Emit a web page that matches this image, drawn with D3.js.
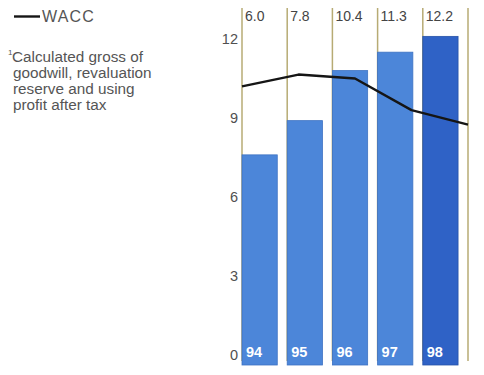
<!DOCTYPE html>
<html>
<head>
<meta charset="utf-8">
<script src="https://cdn.jsdelivr.net/npm/d3@7"></script>
<style>
  html, body { margin: 0; padding: 0; background: #fff; }
  svg { display: block; }
  text { font-family: "Liberation Sans", Arial, Helvetica, sans-serif; }
</style>
</head>
<body>
<svg id="chart" width="484" height="375"></svg>
<script>
// Years shown on the bars
const years = ["94", "95", "96", "97", "98"];
// Return on capital employed (bars), per cent
const returnValues = [7.6, 8.9, 10.8, 11.5, 12.1];
// Weighted average cost of capital (line), per cent
const waccValues = [10.2, 10.65, 10.5, 9.3, 8.75];
// Figures printed above each column
const topLabels = ["6.0", "7.8", "10.4", "11.3", "12.2"];
// Value axis ticks
const yTicks = [0, 3, 6, 9, 12];
// Footnote lines
const footnote = ["Calculated gross of", "goodwill, revaluation", "reserve and using", "profit after tax"];

const svg = d3.select("#chart");

const plotLeft = 242, plotRight = 468;
const y = d3.scaleLinear().domain([0, 12]).range([355, 39]);
const barOverhang = 10;

const x = d3.scaleBand()
  .domain(years)
  .range([plotLeft, plotRight])
  .paddingInner(0.22)
  .paddingOuter(0.11)
  .align(0);

const xLine = d3.scalePoint().domain(years).range([plotLeft, plotRight]);

// Column divider rules
const ruleXs = years.map(d => x(d)).concat([plotRight]);
svg.append("g").selectAll("line")
  .data(ruleXs)
  .join("line")
  .attr("x1", d => d).attr("x2", d => d)
  .attr("y1", 8).attr("y2", y(0) + 6)
  .attr("stroke", "#b7ab74")
  .attr("stroke-width", 1.5);

// Bars
const barColor = (d, i) => i === years.length - 1 ? "#2f62c6" : "#4c86d9";
svg.append("g").selectAll("rect")
  .data(returnValues)
  .join("rect")
  .attr("x", (d, i) => x(years[i]))
  .attr("width", x.bandwidth())
  .attr("y", d => y(d))
  .attr("height", d => y(0) + barOverhang - y(d))
  .attr("fill", barColor)
  .attr("stroke", (d, i) => i === years.length - 1 ? "#2753a8" : "#3e72c2")
  .attr("stroke-width", 0.8);

// Year labels inside bars
svg.append("g").selectAll("text")
  .data(years)
  .join("text")
  .attr("x", d => x(d) + 4)
  .attr("y", y(0) + 2)
  .attr("fill", "#ffffff")
  .attr("font-size", 14.5)
  .attr("font-weight", "bold")
  .text(d => d);

// Figures above columns
svg.append("g").selectAll("text")
  .data(topLabels)
  .join("text")
  .attr("x", (d, i) => x(years[i]) + 3)
  .attr("y", 21)
  .attr("fill", "#444")
  .attr("font-size", 14)
  .text(d => d);

// Value axis labels
svg.append("g").selectAll("text")
  .data(yTicks)
  .join("text")
  .attr("x", 238)
  .attr("y", d => y(d))
  .attr("dy", "0.36em")
  .attr("text-anchor", "end")
  .attr("fill", "#505050")
  .attr("font-size", 14.5)
  .text(d => d);

// WACC line
const line = d3.line()
  .x((d, i) => xLine(years[i]))
  .y(d => y(d));
svg.append("path")
  .datum(waccValues)
  .attr("d", line)
  .attr("fill", "none")
  .attr("stroke", "#151515")
  .attr("stroke-width", 2.4)
  .attr("stroke-linejoin", "round");

// Legend
svg.append("line")
  .attr("x1", 14).attr("x2", 40)
  .attr("y1", 16.5).attr("y2", 16.5)
  .attr("stroke", "#151515")
  .attr("stroke-width", 2.4);
svg.append("text")
  .attr("x", 42).attr("y", 22)
  .attr("fill", "#555")
  .attr("font-size", 16)
  .attr("letter-spacing", 1.2)
  .text("WACC");

// Footnote
svg.append("text")
  .attr("x", 8).attr("y", 55)
  .attr("fill", "#555")
  .attr("font-size", 8)
  .text("1");
svg.append("g").selectAll("text")
  .data(footnote)
  .join("text")
  .attr("x", (d, i) => i === 0 ? 12 : 13)
  .attr("y", (d, i) => 62 + i * 16)
  .attr("fill", "#555")
  .attr("font-size", 15.3)
  .text(d => d);
</script>
</body>
</html>
